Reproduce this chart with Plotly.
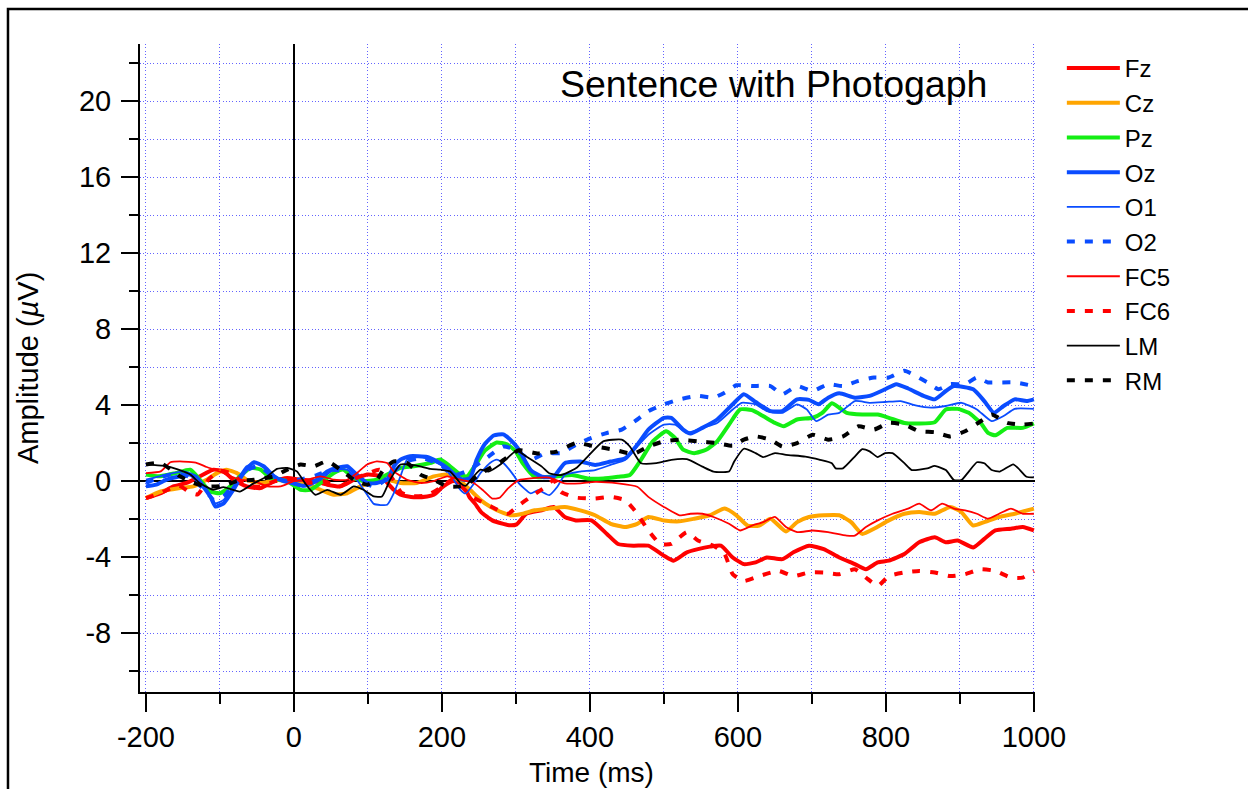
import plotly.graph_objects as go

# ---------------- data (time in ms, amplitude in µV) ----------------
fz_t = [-200, -180, -163, -145, -127, -109, -95, -82, -64, -45, -27, -9, 9, 27, 45, 63, 81, 99, 117, 135, 144, 162, 180, 189, 202, 216, 229, 237, 245, 253, 268, 283, 292, 301, 314, 335, 351, 366, 381, 402, 423, 438, 459, 479, 500, 513, 531, 546, 562, 577, 593, 608, 624, 639, 660, 675, 696, 716, 737, 758, 773, 789, 804, 825, 845, 866, 881, 897, 918, 933, 948, 969, 985, 1000]
fz_v = [-0.9, -0.64, -0.28, -0.1, 0.25, 0.6, 0.51, 0.07, -0.28, -0.37, 0.0, 0.16, 0.07, 0.0, -0.19, -0.28, 0.07, 0.34, 0.25, -0.46, -0.72, -0.85, -0.81, -0.72, -0.28, 0.0, -0.19, -0.83, -1.2, -1.63, -2.07, -2.25, -2.33, -2.28, -1.72, -1.54, -1.36, -1.89, -2.07, -2.07, -2.78, -3.31, -3.4, -3.4, -3.93, -4.19, -3.75, -3.58, -3.45, -3.4, -4.02, -4.37, -4.28, -4.02, -4.11, -3.75, -3.4, -3.58, -4.02, -4.37, -4.64, -4.28, -4.19, -3.84, -3.22, -2.96, -3.22, -3.13, -3.49, -3.04, -2.6, -2.51, -2.42, -2.6]

cz_t = [-200, -180, -154, -136, -118, -104, -91, -77, -64, -45, -23, -1, 18, 36, 54, 72, 90, 108, 126, 144, 166, 189, 207, 225, 238, 252, 265, 283, 294, 309, 325, 345, 366, 387, 407, 428, 448, 464, 479, 500, 521, 541, 562, 582, 598, 613, 629, 644, 665, 680, 696, 716, 737, 753, 768, 784, 804, 825, 845, 866, 887, 902, 918, 933, 953, 974, 1000]
cz_v = [-0.9, -0.55, -0.37, -0.28, 0.07, 0.42, 0.6, 0.42, 0.07, -0.1, 0.07, -0.1, -0.19, -0.46, -0.72, -0.64, -0.28, 0.0, 0.07, -0.1, -0.1, 0.25, 0.34, 0.0, -0.46, -0.99, -1.34, -1.68, -1.8, -1.72, -1.54, -1.45, -1.36, -1.54, -1.8, -2.25, -2.42, -2.25, -1.89, -2.07, -2.12, -1.98, -1.8, -1.45, -1.8, -2.34, -2.34, -1.98, -2.65, -2.16, -1.89, -1.8, -1.8, -2.16, -2.78, -2.51, -2.07, -1.72, -1.63, -1.72, -1.36, -1.63, -2.34, -2.16, -1.89, -1.72, -1.45]

pz_t = [-200, -182, -160, -140, -127, -113, -100, -86, -73, -59, -45, -32, -9, 9, 22, 36, 54, 67, 81, 94, 112, 130, 144, 162, 184, 198, 211, 225, 234, 247, 258, 274, 288, 299, 309, 325, 351, 376, 397, 418, 438, 454, 469, 485, 503, 515, 526, 541, 557, 572, 588, 603, 619, 634, 650, 662, 680, 701, 714, 727, 737, 747, 768, 789, 804, 825, 845, 866, 881, 897, 912, 928, 938, 948, 964, 985, 1000]
pz_v = [0.34, 0.25, 0.42, 0.6, 0.07, -0.55, -0.64, -0.28, 0.25, 0.69, 0.6, 0.16, 0.0, -0.46, -0.46, -0.1, 0.42, 0.6, 0.16, 0.0, 0.07, 0.42, 0.69, 0.78, 0.95, 1.13, 0.78, 0.34, 0.25, 0.95, 1.6, 2.03, 1.93, 1.6, 0.94, 0.23, 0.23, 0.32, 0.14, 0.14, 0.23, 0.32, 1.12, 2.09, 2.62, 2.27, 1.65, 1.47, 1.65, 2.09, 2.97, 3.77, 3.73, 3.42, 3.06, 2.88, 3.24, 3.33, 3.59, 4.09, 3.86, 3.59, 3.5, 3.5, 3.33, 3.06, 3.03, 3.1, 3.77, 3.8, 3.59, 3.06, 2.53, 2.41, 2.8, 2.8, 3.03]

oz_t = [-200, -186, -172, -154, -140, -127, -113, -106, -95, -82, -68, -54, -41, -27, -14, -1, 13, 31, 45, 58, 72, 85, 99, 112, 126, 135, 144, 157, 180, 193, 207, 220, 229, 238, 247, 258, 270, 283, 297, 304, 320, 335, 351, 366, 387, 407, 428, 448, 464, 479, 500, 510, 526, 536, 552, 572, 593, 608, 624, 644, 660, 680, 696, 709, 722, 737, 758, 778, 799, 814, 830, 851, 866, 881, 892, 918, 933, 946, 959, 974, 990, 1000]
oz_v = [-0.28, -0.19, 0.07, 0.25, 0.34, -0.1, -0.81, -1.34, -1.17, -0.46, 0.42, 0.99, 0.78, 0.25, 0.0, -0.1, -0.25, 0.07, 0.51, 0.69, 0.78, 0.34, -0.1, -0.1, 0.07, 0.78, 1.13, 1.31, 1.27, 1.04, 0.69, 0.25, 0.07, 0.16, 1.13, 1.95, 2.4, 2.46, 2.0, 1.65, 0.58, 0.23, 0.23, 0.94, 1.03, 0.85, 1.03, 1.2, 1.91, 2.71, 3.33, 3.33, 2.71, 2.5, 2.8, 3.24, 4.04, 4.57, 4.16, 3.68, 3.68, 4.3, 4.27, 4.04, 4.39, 4.62, 4.39, 4.48, 4.83, 5.1, 4.87, 4.48, 4.3, 4.74, 5.0, 4.83, 4.21, 3.59, 3.95, 4.3, 4.21, 4.3]

o1_t = [-200, -172, -149, -131, -118, -106, -95, -82, -64, -50, -36, -18, 0, 18, 36, 54, 72, 85, 99, 108, 126, 135, 144, 153, 171, 189, 202, 216, 225, 232, 242, 252, 265, 274, 283, 297, 304, 320, 330, 345, 356, 366, 387, 407, 428, 448, 464, 479, 500, 515, 531, 552, 572, 593, 605, 624, 639, 660, 680, 693, 706, 722, 737, 758, 778, 799, 820, 840, 861, 881, 902, 923, 943, 959, 974, 1000]
o1_v = [0.07, 0.34, 0.51, 0.25, -0.46, -1.17, -0.99, -0.28, 0.78, 0.95, 0.6, 0.07, -0.19, -0.28, 0.07, 0.6, 0.6, 0.07, -0.72, -1.2, -1.25, -0.64, 0.25, 1.13, 1.27, 1.04, 0.78, 0.07, -0.46, -0.65, -0.2, 0.42, 0.95, 1.13, 0.95, 0.3, -0.12, -0.65, -0.48, -0.74, -0.3, 0.32, 0.5, 0.58, 0.85, 1.12, 1.82, 2.44, 2.97, 2.97, 2.53, 2.8, 3.06, 3.77, 4.12, 4.04, 3.68, 3.59, 4.04, 3.77, 3.15, 3.5, 3.59, 4.21, 4.12, 4.16, 4.21, 3.98, 3.86, 3.95, 4.12, 3.77, 3.15, 3.42, 3.8, 3.8]

o2_t = [-200, -180, -160, -140, -120, -108, -95, -80, -62, -48, -30, -10, 10, 30, 50, 70, 90, 110, 130, 150, 175, 200, 215, 237, 263, 283, 299, 320, 340, 361, 381, 402, 423, 443, 464, 479, 500, 521, 546, 567, 582, 598, 619, 644, 660, 680, 701, 722, 742, 763, 784, 804, 825, 840, 856, 871, 887, 907, 923, 938, 953, 974, 1000]
o2_v = [-0.1, 0.2, 0.4, 0.2, -0.5, -1.0, -0.8, -0.1, 0.6, 0.8, 0.3, 0.0, 0.1, 0.3, 0.6, 0.5, 0.0, -0.3, 0.3, 1.0, 1.2, 0.8, 0.3, 0.58, 1.29, 1.82, 1.65, 1.12, 1.47, 1.47, 1.91, 2.27, 2.53, 2.71, 3.24, 3.68, 4.04, 4.3, 4.48, 4.39, 4.65, 5.04, 5.0, 5.0, 4.57, 5.0, 4.74, 5.1, 5.0, 5.27, 5.45, 5.45, 5.8, 5.54, 5.19, 4.83, 5.1, 5.1, 5.45, 5.19, 5.19, 5.19, 5.0]

fc5_t = [-200, -180, -167, -154, -131, -118, -100, -91, -73, -54, -36, -18, 0, 18, 36, 54, 72, 85, 99, 112, 126, 135, 153, 171, 189, 207, 225, 243, 256, 268, 278, 289, 304, 320, 345, 366, 387, 407, 438, 464, 479, 500, 521, 536, 552, 567, 588, 603, 619, 634, 650, 665, 680, 701, 722, 747, 758, 773, 789, 809, 830, 845, 861, 876, 892, 907, 923, 938, 953, 969, 985, 1000]
fc5_v = [0.42, 0.51, 0.99, 1.04, 0.95, 0.74, 0.5, 0.34, 0.07, 0.0, -0.28, -0.28, 0.0, 0.07, 0.25, 0.07, 0.07, 0.42, 0.87, 1.04, 0.95, 0.51, 0.07, -0.1, 0.0, 0.25, 0.07, -0.1, -0.5, -0.92, -0.88, -0.4, 0.05, 0.14, 0.18, -0.12, -0.12, -0.04, -0.12, -0.3, -0.83, -1.36, -1.8, -1.72, -1.72, -1.89, -2.25, -2.6, -2.34, -2.16, -1.89, -2.42, -2.69, -2.6, -2.69, -2.87, -2.87, -2.42, -2.07, -1.72, -1.45, -1.19, -1.54, -1.19, -1.45, -1.54, -1.72, -1.98, -1.72, -1.45, -1.72, -1.72]

fc6_t = [-200, -185, -170, -155, -140, -130, -115, -100, -85, -65, -45, -25, 0, 20, 40, 60, 80, 100, 115, 130, 145, 160, 180, 200, 215, 227, 240, 263, 289, 304, 320, 340, 351, 361, 381, 407, 428, 448, 464, 479, 495, 510, 531, 546, 567, 582, 593, 608, 629, 655, 675, 696, 716, 737, 758, 773, 789, 804, 825, 845, 866, 887, 907, 928, 948, 969, 985, 1000]
fc6_v = [-0.9, -0.7, -0.45, -0.25, -0.6, -0.7, 0.1, 0.55, 0.4, -0.2, -0.3, 0.0, 0.1, -0.1, 0.0, -0.3, 0.1, 0.4, 0.6, 0.3, -0.6, -0.8, -0.75, -0.3, 0.1, -0.3, -0.8, -1.27, -1.72, -1.27, -0.83, -0.3, 0.05, -0.57, -0.87, -0.92, -0.83, -1.01, -1.72, -2.6, -3.31, -3.31, -2.69, -3.13, -3.4, -3.84, -4.9, -5.26, -5.0, -4.73, -5.0, -4.81, -4.81, -4.9, -4.64, -5.08, -5.52, -5.0, -4.81, -4.73, -4.81, -5.0, -4.9, -4.64, -4.73, -5.08, -5.08, -4.73]

lm_t = [-200, -176, -156, -140, -127, -109, -95, -73, -54, -36, -23, -9, 4, 15, 29, 45, 63, 81, 94, 108, 119, 130, 144, 166, 184, 198, 211, 225, 232, 243, 252, 263, 279, 301, 314, 335, 345, 361, 381, 397, 418, 443, 454, 469, 490, 510, 531, 552, 567, 588, 595, 608, 624, 634, 650, 665, 691, 711, 727, 732, 742, 758, 768, 778, 789, 799, 809, 825, 835, 856, 866, 881, 892, 902, 912, 923, 933, 943, 954, 972, 979, 990, 1000]
lm_v = [0.87, 0.81, 0.6, 0.34, -0.11, -0.46, -0.32, -0.55, -0.11, 0.25, 0.64, 0.69, 0.51, -0.11, -0.72, -0.46, -0.72, -0.28, -0.46, -0.81, -0.81, 0.07, 0.87, 0.81, 0.64, 0.6, 0.51, -0.11, -0.25, 0.25, 0.6, 0.5, 0.87, 1.6, 1.29, 0.76, 0.41, 0.32, 0.67, 1.29, 2.09, 2.18, 1.82, 0.94, 0.94, 1.12, 1.15, 0.76, 0.5, 0.5, 1.03, 1.7, 1.47, 1.26, 1.47, 1.38, 1.29, 1.12, 0.94, 0.67, 0.67, 1.29, 1.68, 1.56, 1.26, 1.47, 1.47, 0.94, 0.58, 0.67, 0.8, 0.58, 0.05, 0.05, 0.5, 0.99, 0.94, 0.58, 0.5, 0.88, 0.67, 0.23, 0.19]

rm_t = [-200, -180, -154, -136, -118, -95, -77, -54, -27, -9, 9, 27, 45, 63, 81, 99, 112, 121, 135, 153, 171, 189, 207, 225, 234, 247, 265, 279, 304, 330, 355, 381, 407, 433, 459, 479, 500, 521, 546, 572, 593, 608, 624, 644, 660, 680, 701, 722, 742, 763, 784, 804, 825, 845, 866, 887, 907, 928, 943, 964, 985, 1000]
rm_v = [0.87, 0.95, 0.25, -0.1, -0.28, -0.25, 0.0, 0.07, 0.25, 0.6, 0.87, 0.78, 1.04, 0.6, 0.07, -0.19, 0.07, 0.6, 1.04, 0.95, 0.34, 0.07, -0.28, -0.28, -0.19, 0.25, 0.69, 1.0, 1.62, 1.45, 1.55, 2.0, 1.82, 1.65, 1.43, 1.82, 2.09, 2.18, 2.09, 2.0, 1.86, 2.18, 2.35, 2.18, 1.82, 2.0, 2.44, 2.18, 2.35, 2.88, 2.71, 3.06, 2.97, 2.62, 2.57, 2.35, 2.62, 3.15, 3.5, 3.06, 2.97, 3.03]

x_tick_vals = [-200, 0, 200, 400, 600, 800, 1000]
x_tick_text = ["-200", "0", "200", "400", "600", "800", "1000"]
y_tick_vals = [-8, -4, 0, 4, 8, 12, 16, 20]
y_tick_text = ["-8", "-4", "0", "4", "8", "12", "16", "20"]

# ---------------- styles ----------------
RED = "#ff0000"
ORANGE = "#ffa500"
GREEN = "#14ee14"
BLUE = "#0a4cff"
BLACK = "#000000"
DASH = "8px,10px"

series = [
    ("Fz", fz_t, fz_v, RED, 4, "solid"),
    ("Cz", cz_t, cz_v, ORANGE, 4, "solid"),
    ("Pz", pz_t, pz_v, GREEN, 4, "solid"),
    ("Oz", oz_t, oz_v, BLUE, 4, "solid"),
    ("O1", o1_t, o1_v, BLUE, 1.8, "solid"),
    ("O2", o2_t, o2_v, BLUE, 4, DASH),
    ("FC5", fc5_t, fc5_v, RED, 1.8, "solid"),
    ("FC6", fc6_t, fc6_v, RED, 4, DASH),
    ("LM", lm_t, lm_v, BLACK, 1.8, "solid"),
    ("RM", rm_t, rm_v, BLACK, 4, DASH),
]

fig = go.Figure()
for i, (name, t, v, color, w, dash) in enumerate(series):
    fig.add_trace(go.Scatter(
        x=t, y=v, mode="lines", name=name, legendgroup=f"g{i}",
        line=dict(color=color, width=w, dash=dash, shape="spline", smoothing=0.5),
    ))

GRID = "#6464ff"
GDASH = "1px,2.3px"
FONT = "Liberation Sans, Arial, sans-serif"

fig.update_layout(
    width=1248, height=789, autosize=False,
    margin=dict(l=140, r=213, t=44, b=97),
    paper_bgcolor="white", plot_bgcolor="white",
    font=dict(family=FONT, size=29, color="black"),
    showlegend=True,
    legend=dict(
        x=1.03, y=0.997, xanchor="left", yanchor="top",
        font=dict(family=FONT, size=24, color="black"),
        bgcolor="rgba(0,0,0,0)", borderwidth=0,
        traceorder="grouped", tracegroupgap=0.5, itemwidth=53,
    ),
)

fig.update_xaxes(
    range=[-208, 1001.5], showline=True, linecolor="black", linewidth=2,
    ticks="outside", ticklen=18, tickwidth=2, tickcolor="black",
    tickmode="array", tickvals=x_tick_vals, ticktext=x_tick_text,
    showgrid=True, gridcolor=GRID, gridwidth=1, griddash=GDASH,
    zeroline=True, zerolinecolor="black", zerolinewidth=2,
    minor=dict(dtick=100, tick0=-200, ticks="outside", ticklen=10, tickwidth=2, tickcolor="black",
               showgrid=True, gridcolor=GRID, gridwidth=1, griddash=GDASH),
    tickfont=dict(family=FONT, size=29), fixedrange=True,
)
fig.update_yaxes(
    range=[-11.1, 23.0], showline=True, linecolor="black", linewidth=2,
    ticks="outside", ticklen=17, tickwidth=2, tickcolor="black",
    tickmode="array", tickvals=y_tick_vals, ticktext=y_tick_text,
    showgrid=True, gridcolor=GRID, gridwidth=1, griddash=GDASH,
    zeroline=True, zerolinecolor="black", zerolinewidth=2,
    minor=dict(dtick=2, tick0=0, ticks="outside", ticklen=9, tickwidth=2, tickcolor="black",
               showgrid=True, gridcolor=GRID, gridwidth=1, griddash=GDASH),
    tickfont=dict(family=FONT, size=29), ticklabelstandoff=4, fixedrange=True,
)

# outer frame
fig.add_shape(type="rect", xref="paper", yref="paper",
              x0=-0.1475, x1=1.26, y0=-0.17, y1=1.054,
              line=dict(color="black", width=2.5), fillcolor="rgba(0,0,0,0)")

fig.add_annotation(text="Sentence with Photogaph", xref="paper", yref="paper",
                   x=0.7073, y=0.938, xanchor="center", yanchor="middle", showarrow=False,
                   font=dict(family=FONT, size=37.5, color="black"))
fig.add_annotation(text="Time (ms)", xref="paper", yref="paper",
                   x=0.504, y=-0.1235, xanchor="center", yanchor="middle", showarrow=False,
                   font=dict(family=FONT, size=28, color="black"))
fig.add_annotation(text="Amplitude (<i>µ</i>V)", xref="paper", yref="paper",
                   x=-0.1251, y=0.5, xanchor="center", yanchor="middle", showarrow=False,
                   textangle=-90, font=dict(family=FONT, size=29, color="black"))

fig.write_html("out.html")
